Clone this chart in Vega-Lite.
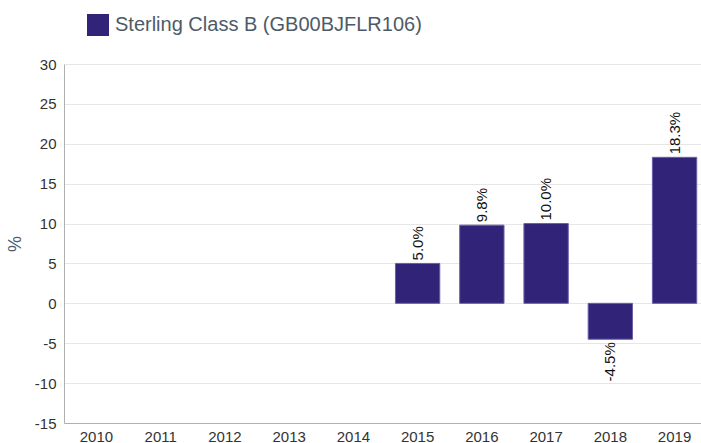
{
  "$schema": "https://vega.github.io/schema/vega-lite/v6.json",
  "width": 643,
  "height": 359,
  "autosize": {"type": "none"},
  "padding": {"left": 64, "top": 64, "right": 0, "bottom": 20},
  "background": "white",
  "config": {
    "font": "Liberation Sans",
    "view": {"stroke": null}
  },
  "data": {
    "values": [
      {"year": "2010", "value": null, "series": "Sterling Class B (GB00BJFLR106)"},
      {"year": "2011", "value": null, "series": "Sterling Class B (GB00BJFLR106)"},
      {"year": "2012", "value": null, "series": "Sterling Class B (GB00BJFLR106)"},
      {"year": "2013", "value": null, "series": "Sterling Class B (GB00BJFLR106)"},
      {"year": "2014", "value": null, "series": "Sterling Class B (GB00BJFLR106)"},
      {"year": "2015", "value": 5.0, "series": "Sterling Class B (GB00BJFLR106)"},
      {"year": "2016", "value": 9.8, "series": "Sterling Class B (GB00BJFLR106)"},
      {"year": "2017", "value": 10.0, "series": "Sterling Class B (GB00BJFLR106)"},
      {"year": "2018", "value": -4.5, "series": "Sterling Class B (GB00BJFLR106)"},
      {"year": "2019", "value": 18.3, "series": "Sterling Class B (GB00BJFLR106)"}
    ]
  },
  "encoding": {
    "x": {
      "field": "year",
      "type": "ordinal",
      "scale": {
        "domain": ["2010", "2011", "2012", "2013", "2014", "2015", "2016", "2017", "2018", "2019"],
        "paddingInner": 0.31,
        "paddingOuter": 0.16
      },
      "axis": {
        "title": null,
        "labelAngle": 0,
        "labelFontSize": 15,
        "labelColor": "#333333",
        "labelPadding": 6,
        "ticks": false,
        "domainColor": "#b0b0b0",
        "grid": false
      }
    },
    "y": {
      "field": "value",
      "type": "quantitative",
      "scale": {"domain": [-15, 30], "nice": false, "zero": false},
      "axis": {
        "title": "%",
        "titleFontSize": 18,
        "titleFontWeight": "normal",
        "titleColor": "#4d5b68",
        "titlePadding": 10,
        "values": [-15, -10, -5, 0, 5, 10, 15, 20, 25, 30],
        "labelFontSize": 15,
        "labelColor": "#333333",
        "labelPadding": 8,
        "labelExpr": "replace(datum.label, '−', '-')",
        "ticks": false,
        "domainColor": "#b0b0b0",
        "gridColor": "#e6e6e6"
      }
    }
  },
  "layer": [
    {
      "mark": {"type": "bar", "stroke": "#6a5fa8", "strokeWidth": 1},
      "encoding": {
        "color": {
          "field": "series",
          "type": "nominal",
          "scale": {"range": ["#312378"]},
          "legend": {
            "title": null,
            "orient": "none",
            "legendX": 23,
            "legendY": -50,
            "symbolType": "square",
            "symbolSize": 484,
            "symbolStrokeWidth": 0,
            "symbolOpacity": 1,
            "labelFontSize": 20,
            "labelColor": "#4d5b68",
            "labelOffset": 6,
            "labelLimit": 500
          }
        }
      }
    },
    {
      "transform": [
        {"filter": "datum.value != null && datum.value >= 0"},
        {"calculate": "format(datum.value, '.1f') + '%'", "as": "lbl"}
      ],
      "mark": {"type": "text", "angle": -90, "align": "left", "baseline": "middle", "dx": 3, "fontSize": 15, "color": "#111111"},
      "encoding": {
        "text": {"field": "lbl", "type": "nominal"}
      }
    },
    {
      "transform": [
        {"filter": "datum.value != null && datum.value < 0"},
        {"calculate": "replace(format(datum.value, '.1f'), '−', '-') + '%'", "as": "lbl"}
      ],
      "mark": {"type": "text", "angle": -90, "align": "right", "baseline": "middle", "dx": -3, "fontSize": 15, "color": "#111111"},
      "encoding": {
        "text": {"field": "lbl", "type": "nominal"}
      }
    }
  ]
}
